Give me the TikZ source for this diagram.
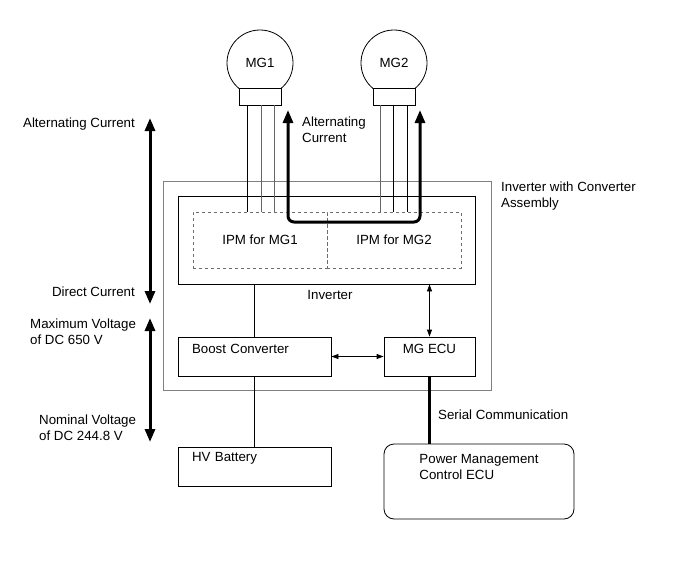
\documentclass[tikz,border=0pt]{standalone}
\usepackage{fontspec}
\setmainfont{Liberation Sans}
\usetikzlibrary{arrows.meta, positioning}

\begin{document}
\begin{tikzpicture}[
x=1pt, y=-1pt,
every node/.style={font=\fontsize{13.3}{16}\selectfont, inner sep=0pt},
box/.style={rectangle, draw, line width=0.8pt},
ipm/.style={rectangle, draw=gray!85!black, dashed, line width=0.8pt, minimum width=134pt, minimum height=56pt},
topbox/.style={box, minimum height=39pt, text height=16.7pt, text depth=22.3pt},
motor/.style={circle, draw, line width=0.8pt, minimum size=66pt},
motorbase/.style={box, fill=white, minimum width=42pt, minimum height=17pt},
heavy/.style={line width=3pt, {Triangle[length=13pt, width=10pt]}-{Triangle[length=13pt, width=10pt]}},
small/.style={line width=0.8pt, {Triangle[length=7pt, width=5pt]}-{Triangle[length=7pt, width=5pt]}}
]
\useasboundingbox (0,0) rectangle (691,562);

% motors
\node[motor] (mgone) at (260,63) {MG1};
\node[motorbase] (mgonebase) at (260,96.5) {};
\node[motor] (mgtwo) at (394,63) {MG2};
\node[motorbase] (mgtwobase) at (394,96.5) {};

% inverter with converter assembly
\node[box, draw=gray, minimum width=328pt, minimum height=209pt] (assy) at (327,285.5) {};
\node[box, minimum width=297pt, minimum height=88pt] (inv) at (326.5,240) {};
\node[ipm] (ipmone) at (260,240) {IPM for MG1};
\node[ipm] (ipmtwo) at (394,240) {IPM for MG2};
\node (invlabel) at (330,295) {Inverter};
\node[topbox, minimum width=153pt, text width=125pt, inner xsep=14pt, align=left] (boost) at (254.5,356.5) {Boost Converter};
\node[topbox, minimum width=91pt, align=center] (mgecu) at (429.5,356.5) {MG ECU};

% outside the assembly
\node[box, minimum width=153pt, minimum height=39pt, text width=125pt, inner xsep=14pt, align=left, text height=14.7pt, text depth=24.3pt] (hvbat) at (254.5,466.5) {HV Battery};
\node[box, rounded corners=10pt, minimum width=190pt, inner xsep=32pt, align=left, text height=35.7pt, text depth=39.3pt] (pmecu) at (479,481.5) {Power Management\\Control ECU};

% motor wires
\foreach \x/\c in {247/black, 261/gray!80!black, 274/gray!80!black}
  \draw[\c, line width=0.8pt] (\x,0 |- mgonebase.south) -- (\x,0 |- ipmone.north);
\foreach \x/\c in {380/gray!80!black, 393/black, 407/black}
  \draw[\c, line width=0.8pt] (\x,0 |- mgtwobase.south) -- (\x,0 |- ipmtwo.north);

% alternating current path
\coordinate (actipone) at (288,110);
\coordinate (actiptwo) at (420,110);
\draw[heavy, rounded corners=6pt] (actipone) -- (actipone |- 0,222) -- (actiptwo |- 0,222) -- (actiptwo);
\node[anchor=base west, align=left] (aclabeltwo) at (302,142) {Alternating\\Current};

% connections
\draw[line width=0.8pt] (boost.north) -- (boost.north |- inv.south);
\draw[line width=0.8pt] (boost.south) -- (hvbat.north);
\draw[small] (mgecu.north) -- (mgecu.north |- inv.south);
\draw[small] (boost.east) -- (mgecu.west);
\draw[line width=3pt] (mgecu.south) -- (mgecu.south |- pmecu.north);
\node[anchor=base west] (seriallabel) at (438,419.7) {Serial Communication};
\node[anchor=base west, align=left] (assylabel) at (501,207.7) {Inverter with Converter\\Assembly};

% voltage / current ranges
\coordinate (acup) at (150,118);
\coordinate (dcdown) at (150,304);
\coordinate (vup) at (150,318);
\coordinate (vdown) at (150,442);
\draw[heavy] (acup) -- (dcdown);
\draw[heavy] (vup) -- (vdown);
\node[anchor=base east] (aclabel) at (135,127.7) {Alternating Current};
\node[anchor=base east] (dclabel) at (135,296.7) {Direct Current};
\node[anchor=base west, align=left] (maxlabel) at (30,344.7) {Maximum Voltage\\of DC 650 V};
\node[anchor=base west, align=left] (nomlabel) at (39,440) {Nominal Voltage\\of DC 244.8 V};

\end{tikzpicture}
\end{document}
